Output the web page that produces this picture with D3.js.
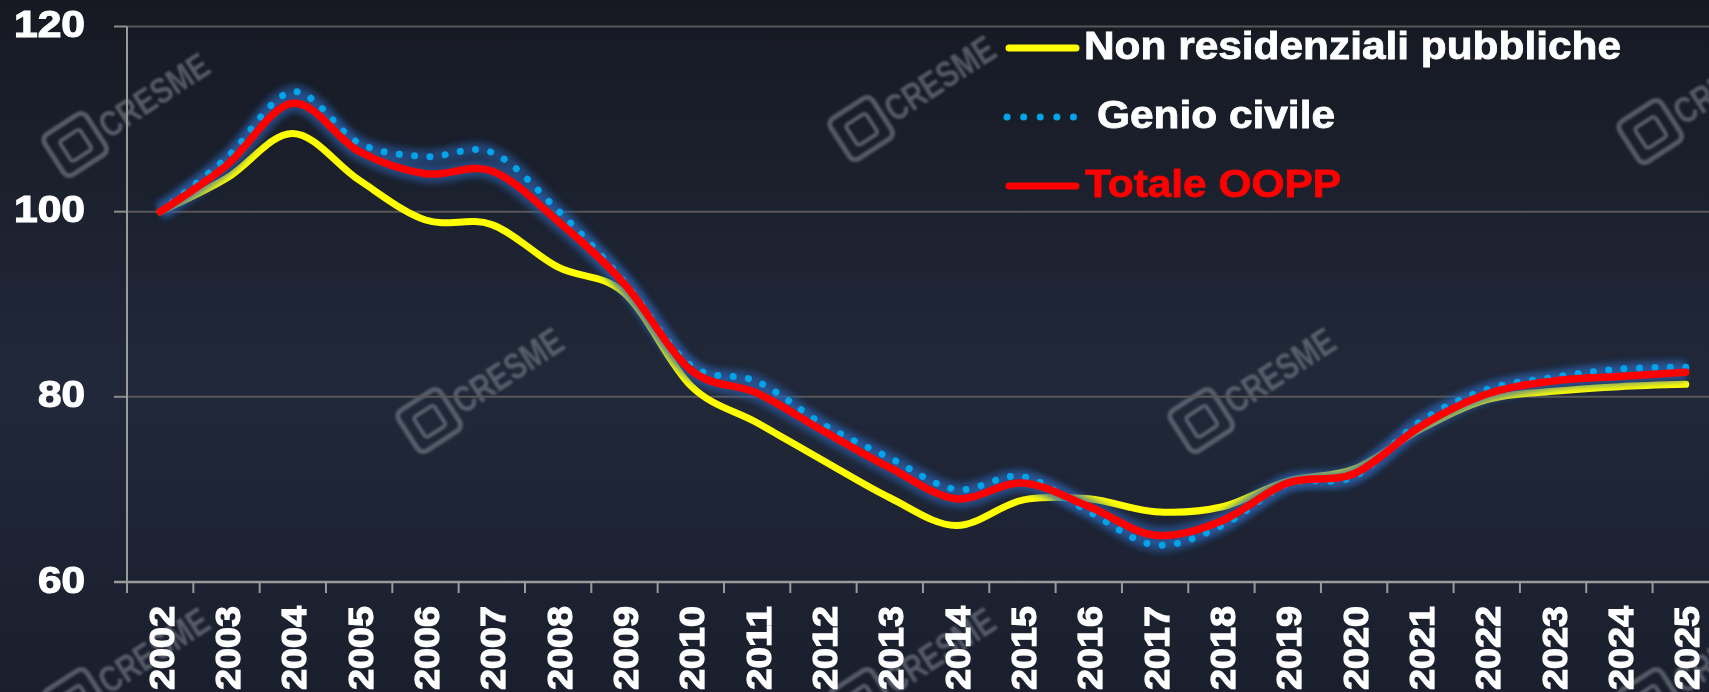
<!DOCTYPE html>
<html>
<head>
<meta charset="utf-8">
<script src="https://cdn.jsdelivr.net/npm/d3@7"></script>
<style>
  html, body { margin: 0; padding: 0; background: #1b2030; overflow: hidden; }
  svg { display: block; }
</style>
</head>
<body>
<svg id="chart" width="1709" height="692"></svg>
<script>
// ---------- DATA ----------
const years = ["2002","2003","2004","2005","2006","2007","2008","2009","2010","2011","2012","2013",
               "2014","2015","2016","2017","2018","2019","2020","2021","2022","2023","2024","2025"];
const nonResidenziali = [100, 103.6, 108.45, 103.4, 99.1, 98.6, 94.0, 91.2, 81.2, 77.2, 73.1, 69.1,
                         66.1, 68.85, 69.0, 67.6, 68.1, 70.9, 72.2, 76.5, 79.7, 80.6, 81.1, 81.35];
const genioCivile = [100, 105.8, 112.95, 107.4, 105.95, 106.4, 100.1, 92.4, 83.4, 81.65, 77.0, 73.4,
                     70.0, 71.4, 67.6, 64.0, 66.05, 70.6, 71.4, 77.35, 80.8, 82.1, 83.0, 83.2];
const totaleOOPP = [100, 105.0, 111.7, 106.5, 104.1, 104.4, 98.95, 92.2, 82.9, 80.4, 76.3, 72.35,
                    69.0, 70.7, 68.15, 65.05, 66.6, 70.7, 71.7, 76.8, 80.3, 81.7, 82.2, 82.65];
const yTicks = [60, 80, 100, 120];
const seriesNames = ["Non residenziali pubbliche", "Genio civile", "Totale OOPP"];

// ---------- SETUP ----------
const W = 1709, H = 692;
const svg = d3.select("#chart");
const defs = svg.append("defs");

const bg = defs.append("linearGradient").attr("id", "bg").attr("x1", 0).attr("y1", 0).attr("x2", 0).attr("y2", 1);
bg.append("stop").attr("offset", "0%").attr("stop-color", "#161922");
bg.append("stop").attr("offset", "55%").attr("stop-color", "#212839");
bg.append("stop").attr("offset", "100%").attr("stop-color", "#1a1f2d");
svg.append("rect").attr("width", W).attr("height", H).attr("fill", "url(#bg)");

const blur = defs.append("filter").attr("id", "glow").attr("x", "-10%").attr("y", "-10%").attr("width", "120%").attr("height", "120%");
blur.append("feGaussianBlur").attr("stdDeviation", 3);
const wmBlur = defs.append("filter").attr("id", "wmblur");
wmBlur.append("feGaussianBlur").attr("stdDeviation", 0.8);

const x = d3.scaleBand().domain(years).range([127, 127 + 24 * 66.33]).padding(0);
const xc = d => x(d) + x.bandwidth() / 2;
const y = d3.scaleLinear().domain([60, 120]).range([582, 26.5]);

// ---------- WATERMARKS ----------
const wmPos = [[76,144],[862,128],[1651,131],[430,420],[1202,420],[76,700],[862,700],[1651,700]];
const wm = svg.append("g").attr("filter", "url(#wmblur)").attr("opacity", 0.6);
wmPos.forEach(([cx, cy]) => {
  const g = wm.append("g").attr("transform", `translate(${cx},${cy}) rotate(-33)`);
  g.append("rect").attr("x", -26).attr("y", -24).attr("width", 50).attr("height", 48).attr("rx", 7)
    .attr("fill", "none").attr("stroke", "#80848f").attr("stroke-width", 5);
  g.append("rect").attr("x", -13).attr("y", -11).attr("width", 24).attr("height", 24).attr("rx", 3)
    .attr("fill", "none").attr("stroke", "#80848f").attr("stroke-width", 4);
  g.append("text").text("CRESME").attr("x", 30).attr("y", 14)
    .attr("font-family", "Liberation Sans Narrow, Liberation Sans, Arial, sans-serif").attr("font-weight", "bold")
    .attr("font-size", 36).attr("textLength", 124).attr("lengthAdjust", "spacingAndGlyphs")
    .attr("fill", "#80848f");
});

// ---------- GRID & AXES ----------
const grid = svg.append("g");
yTicks.filter(v => v !== 60).forEach(v => {
  grid.append("line").attr("x1", 127).attr("x2", W).attr("y1", y(v)).attr("y2", y(v))
    .attr("stroke", "#575757").attr("stroke-width", 2);
});
yTicks.forEach(v => {
  grid.append("line").attr("x1", 114).attr("x2", 127).attr("y1", y(v)).attr("y2", y(v))
    .attr("stroke", "#8c8c8c").attr("stroke-width", 2);
});
grid.append("line").attr("x1", 127).attr("x2", 127).attr("y1", y(120)).attr("y2", 593)
  .attr("stroke", "#9a9a9a").attr("stroke-width", 2);
grid.append("line").attr("x1", 114).attr("x2", W).attr("y1", y(60)).attr("y2", y(60))
  .attr("stroke", "#9a9a9a").attr("stroke-width", 2.5);
years.forEach(yr => {
  grid.append("line").attr("x1", x(yr)).attr("x2", x(yr)).attr("y1", y(60)).attr("y2", 593)
    .attr("stroke", "#9a9a9a").attr("stroke-width", 2);
});

const font = "Liberation Sans, Arial, Helvetica, sans-serif";
// y labels
svg.append("g").selectAll("text").data(yTicks).join("text")
  .attr("x", 85).attr("y", d => y(d) + 10.5)
  .attr("text-anchor", "end")
  .attr("font-family", font).attr("font-weight", "bold").attr("font-size", 37)
  .attr("fill", "#ffffff").attr("stroke", "#ffffff").attr("stroke-width", 1.2)
  .attr("textLength", d => String(d).length === 3 ? 71 : 47)
  .attr("lengthAdjust", "spacingAndGlyphs")
  .text(d => d);

// x labels
svg.append("g").selectAll("text").data(years).join("text")
  .attr("transform", d => `translate(${xc(d) + 1},606) rotate(-90)`)
  .attr("text-anchor", "end").attr("dominant-baseline", "central")
  .attr("font-family", font).attr("font-weight", "bold").attr("font-size", 35)
  .attr("fill", "#ffffff").attr("stroke", "#ffffff").attr("stroke-width", 1.2)
  .attr("textLength", 84).attr("lengthAdjust", "spacingAndGlyphs")
  .text(d => d);

// ---------- LINES ----------
const line = vals => d3.line()
  .x((d, i) => xc(years[i]))
  .y(d => y(d))
  .curve(d3.curveCardinal.tension(0))(vals);

const lines = svg.append("g");
lines.append("path").attr("d", line(nonResidenziali)).attr("fill", "none")
  .attr("stroke", "#ffff00").attr("stroke-width", 7).attr("stroke-linecap", "round").attr("stroke-linejoin", "round");

lines.append("path").attr("d", line(genioCivile)).attr("fill", "none")
  .attr("stroke", "#2c62b0").attr("stroke-width", 14).attr("stroke-opacity", 0.55)
  .attr("filter", "url(#glow)");
lines.append("path").attr("d", line(totaleOOPP)).attr("fill", "none")
  .attr("stroke", "#2c62b0").attr("stroke-width", 18).attr("stroke-opacity", 0.6)
  .attr("filter", "url(#glow)");

lines.append("path").attr("d", line(genioCivile)).attr("fill", "none")
  .attr("stroke", "#03a3ea").attr("stroke-width", 7).attr("stroke-linecap", "round")
  .attr("stroke-dasharray", "0.1 15.3");
lines.append("path").attr("d", line(totaleOOPP)).attr("fill", "none")
  .attr("stroke", "#ff0000").attr("stroke-width", 7.5).attr("stroke-linecap", "round").attr("stroke-linejoin", "round");

// ---------- LEGEND ----------
const leg = svg.append("g");
leg.append("line").attr("x1", 1009).attr("x2", 1076).attr("y1", 48).attr("y2", 48)
  .attr("stroke", "#ffff00").attr("stroke-width", 7).attr("stroke-linecap", "round");
leg.append("text").attr("x", 1084).attr("y", 59).text(seriesNames[0])
  .attr("font-family", font).attr("font-weight", "bold").attr("font-size", 38)
  .attr("fill", "#ffffff").attr("stroke", "#ffffff").attr("stroke-width", 0.8)
  .attr("textLength", 537).attr("lengthAdjust", "spacingAndGlyphs");

leg.append("line").attr("x1", 1007).attr("x2", 1074).attr("y1", 117).attr("y2", 117)
  .attr("stroke", "#03a3ea").attr("stroke-width", 7).attr("stroke-linecap", "round")
  .attr("stroke-dasharray", "0.1 16.5");
leg.append("text").attr("x", 1097).attr("y", 128).text(seriesNames[1])
  .attr("font-family", font).attr("font-weight", "bold").attr("font-size", 38)
  .attr("fill", "#ffffff").attr("stroke", "#ffffff").attr("stroke-width", 0.8)
  .attr("textLength", 238).attr("lengthAdjust", "spacingAndGlyphs");

leg.append("line").attr("x1", 1009).attr("x2", 1076).attr("y1", 186).attr("y2", 186)
  .attr("stroke", "#ff0000").attr("stroke-width", 7).attr("stroke-linecap", "round");
leg.append("text").attr("x", 1085).attr("y", 196.5).text(seriesNames[2])
  .attr("font-family", font).attr("font-weight", "bold").attr("font-size", 38)
  .attr("fill", "#ff0000").attr("stroke", "#ff0000").attr("stroke-width", 0.8)
  .attr("textLength", 256).attr("lengthAdjust", "spacingAndGlyphs");
</script>
</body>
</html>
